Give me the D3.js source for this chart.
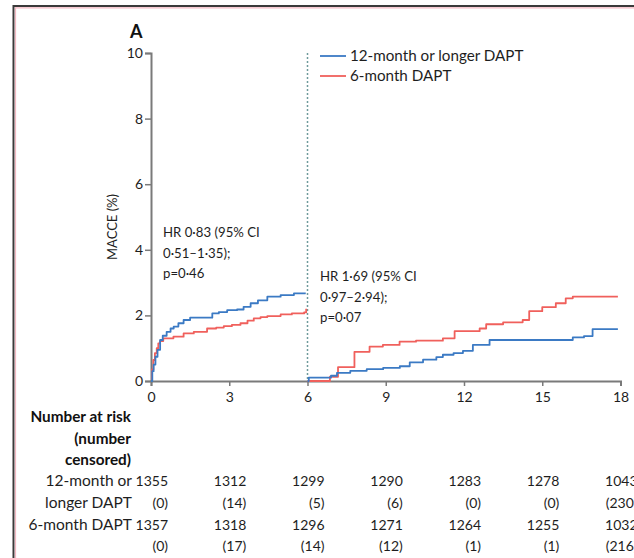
<!DOCTYPE html>
<html>
<head>
<meta charset="utf-8">
<script src="https://cdn.jsdelivr.net/npm/d3@7"></script>
<style>
  html, body { margin: 0; padding: 0; background: #fff; }
  svg { display: block; font-family: Lato, "Open Sans", sans-serif; }
</style>
</head>
<body>
<svg id="chart" width="634" height="558"></svg>
<script>
// Cumulative MACCE (%) — 0–6 months
const early12Time = [0, 0.05, 0.1, 0.17, 0.25, 0.35, 0.45, 0.6, 0.75, 0.87, 1.05, 1.25, 1.5, 2.15, 2.35, 2.6, 2.92, 3.3, 3.55, 3.82, 4.1, 4.46, 4.97, 5.48, 5.9];
const early12Val  = [0, 0.3, 0.5, 0.74, 0.95, 1.25, 1.38, 1.5, 1.6, 1.66, 1.76, 1.86, 1.93, 1.93, 2.06, 2.1, 2.16, 2.18, 2.26, 2.37, 2.46, 2.57, 2.62, 2.67, 2.70];
const early6Time  = [0, 0.04, 0.09, 0.15, 0.22, 0.28, 0.35, 0.47, 0.86, 1.25, 1.64, 2.15, 2.5, 2.79, 3.1, 3.43, 3.7, 3.94, 4.2, 4.46, 4.97, 5.4, 5.87, 5.95];
const early6Val   = [0, 0.35, 0.64, 0.85, 1.0, 1.15, 1.22, 1.30, 1.35, 1.45, 1.50, 1.60, 1.63, 1.67, 1.71, 1.76, 1.84, 1.91, 1.95, 1.98, 2.03, 2.06, 2.09, 2.2];

// Landmark analysis — 6–18 months
const late12Time = [6, 6.05, 6.9, 7.13, 7.64, 8.27, 8.9, 9.54, 9.92, 10.43, 10.94, 11.19, 11.6, 11.96, 12.34, 12.98, 16.04, 16.17, 16.6, 16.93, 17.9];
const late12Val  = [0, 0.1, 0.16, 0.25, 0.31, 0.36, 0.40, 0.45, 0.57, 0.65, 0.73, 0.80, 0.85, 0.92, 1.10, 1.25, 1.25, 1.33, 1.37, 1.58, 1.58];
const late6Time  = [6, 6.86, 7.17, 7.6, 7.8, 8.38, 8.89, 9.53, 10.16, 11.19, 11.64, 12.6, 12.85, 13.5, 14.25, 14.5, 15.0, 15.52, 15.9, 16.17, 17.9];
const late6Val   = [0, 0.13, 0.42, 0.42, 0.89, 1.05, 1.10, 1.20, 1.23, 1.30, 1.52, 1.60, 1.73, 1.79, 1.86, 2.13, 2.25, 2.37, 2.52, 2.57, 2.57];

const xTicks = [0, 3, 6, 9, 12, 15, 18];
const yTicks = [0, 2, 4, 6, 8, 10];
const seriesNames = ["12-month or longer DAPT", "6-month DAPT"];
const seriesColors = ["#3b7ac4", "#f0605c"];

// Number at risk (number censored) at each x tick
const risk12 = [1355, 1312, 1299, 1290, 1283, 1278, 1043];
const cens12 = [0, 14, 5, 6, 0, 0, 230];
const risk6  = [1357, 1318, 1296, 1271, 1264, 1255, 1032];
const cens6  = [0, 17, 14, 12, 1, 1, 216];

const annotEarly = ["HR 0·83 (95% CI", "0·51–1·35);", "p=0·46"];
const annotLate  = ["HR 1·69 (95% CI", "0·97–2·94);", "p=0·07"];

const svg = d3.select("#chart");
const textCol = "#1e1e1e";
const axisCol = "#7a7a7a";

// Panel frame
svg.append("line").attr("x1", 13.5).attr("x2", 634).attr("y1", 6).attr("y2", 6)
  .attr("stroke", "#3a3a3a").attr("stroke-width", 2);
svg.append("line").attr("x1", 13.5).attr("x2", 13.5).attr("y1", 5).attr("y2", 558)
  .attr("stroke", "#3a3a3a").attr("stroke-width", 2);
svg.append("line").attr("x1", 15).attr("x2", 634).attr("y1", 7.8).attr("y2", 7.8)
  .attr("stroke", "#f3b9c3").attr("stroke-width", 1.2);
svg.append("line").attr("x1", 15.5).attr("x2", 15.5).attr("y1", 7.5).attr("y2", 558)
  .attr("stroke", "#f3b9c3").attr("stroke-width", 1.2);

const x = d3.scaleLinear().domain([0, 18]).range([151, 620.5]);
const y = d3.scaleLinear().domain([0, 10]).range([381, 53]);

// Panel letter
svg.append("text").attr("x", 130).attr("y", 38).text("A")
  .attr("font-size", 18).attr("font-weight", 700).attr("fill", "#111");

// Axes
const yAxis = svg.append("g").attr("transform", `translate(${x(0)},0)`)
  .call(d3.axisLeft(y).tickValues(yTicks).tickSize(6).tickPadding(2).tickFormat(d3.format("d")));
const xAxis = svg.append("g").attr("transform", `translate(0,${y(0)})`)
  .call(d3.axisBottom(x).tickValues(xTicks).tickSize(5).tickPadding(6).tickFormat(d3.format("d")));
[xAxis, yAxis].forEach(g => {
  g.select(".domain").attr("stroke", axisCol).attr("stroke-width", 2);
  g.selectAll(".tick line").attr("stroke", axisCol).attr("stroke-width", 1.5);
  g.selectAll(".tick text").attr("fill", textCol).attr("font-size", 14)
    .attr("font-family", "Lato, sans-serif");
});

// Y axis title
svg.append("text")
  .attr("transform", `translate(117,227) rotate(-90)`)
  .attr("text-anchor", "middle").attr("font-size", 13).attr("fill", textCol)
  .text("MACCE (%)");

// Landmark divider at 6 months
svg.append("line").attr("x1", x(6)).attr("x2", x(6)).attr("y1", y(10)).attr("y2", y(0))
  .attr("stroke", "#6f9a9c").attr("stroke-width", 1.5).attr("stroke-dasharray", "2,2");

// Kaplan–Meier style step curves
const line = d3.line().x(d => x(d[0])).y(d => y(d[1])).curve(d3.curveStepAfter);
const curves = [
  [early6Time, early6Val, 1],
  [early12Time, early12Val, 0],
  [late6Time, late6Val, 1],
  [late12Time, late12Val, 0]
];
curves.forEach(([t, v, k]) => {
  svg.append("path").datum(t.map((ti, i) => [ti, v[i]]))
    .attr("d", line).attr("fill", "none")
    .attr("stroke", seriesColors[k]).attr("stroke-width", 1.8)
    .attr("stroke-linejoin", "round");
});

// Legend
seriesNames.forEach((name, i) => {
  const ly = 56 + i * 20;
  svg.append("line").attr("x1", 320).attr("x2", 346).attr("y1", ly).attr("y2", ly)
    .attr("stroke", seriesColors[i]).attr("stroke-width", 1.8);
  svg.append("text").attr("x", 350).attr("y", ly + 5).attr("font-size", 15.2)
    .attr("fill", textCol).text(name);
});

// Hazard ratio annotations
function annotate(lines, ax, ay) {
  lines.forEach((s, i) => {
    svg.append("text").attr("x", ax).attr("y", ay + i * 20.5)
      .attr("font-size", 13.2).attr("fill", textCol).text(s);
  });
}
annotate(annotEarly, 163, 237);
annotate(annotLate, 320, 281);

// Number-at-risk table
const labelX = 131;
const header = ["Number at risk", "(number", "censored)"];
header.forEach((s, i) => {
  svg.append("text").attr("x", labelX).attr("y", 422 + i * 21.5)
    .attr("text-anchor", "end").attr("font-size", 15.3)
    .attr("font-weight", 700).attr("fill", "#111").text(s);
});
const rowLabels = ["12-month or", "longer DAPT", "6-month DAPT", ""];
const rowY = [486, 508, 530, 551];
rowLabels.forEach((s, i) => {
  svg.append("text").attr("x", labelX + 1).attr("y", rowY[i])
    .attr("text-anchor", "end").attr("font-size", 15.5).attr("fill", textCol).text(s);
});
const rows = [
  risk12.map(String),
  cens12.map(c => `(${c})`),
  risk6.map(String),
  cens6.map(c => `(${c})`)
];
rows.forEach((vals, r) => {
  svg.append("g").selectAll("text").data(vals).join("text")
    .attr("x", (d, i) => x(xTicks[i]) + 17)
    .attr("y", rowY[r])
    .attr("text-anchor", "end").attr("font-size", 14).attr("fill", textCol)
    .text(d => d);
});
</script>
</body>
</html>
